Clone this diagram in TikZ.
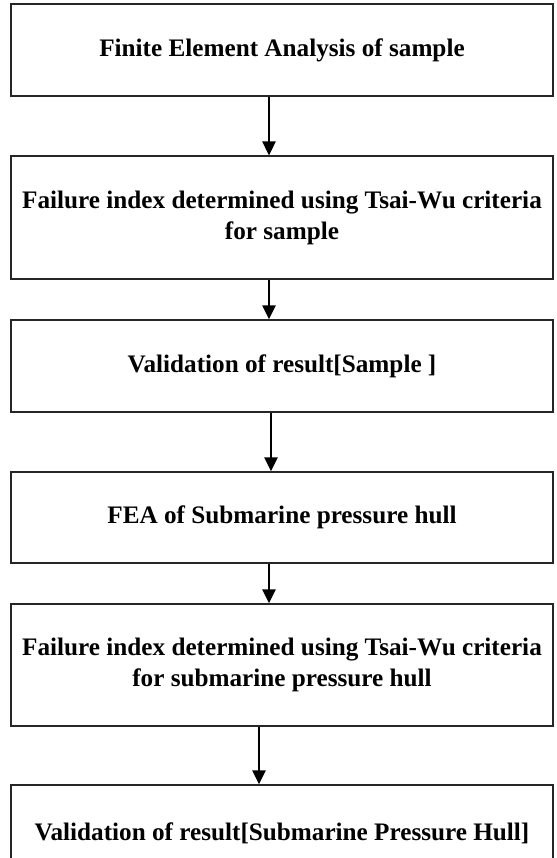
\documentclass[tikz,border=0pt]{standalone}
\usepackage{fontspec}
\setmainfont{Liberation Serif}
\usetikzlibrary{arrows.meta}
\begin{document}
\begin{tikzpicture}[x=0.75pt,y=-0.75pt,
  box/.style={draw=black!85,line width=1.1pt,minimum width=406.5pt,align=center,
    font=\fontsize{18.9}{23.2}\selectfont\bfseries,inner sep=0pt},
  conn/.style={draw=black,line width=1.1pt,-{Triangle[width=10pt,length=10.5pt]}}]
\useasboundingbox (0,0) rectangle (557,858);
\clip (0,0) rectangle (557,858);
\node[box,minimum height=69pt] (b1) at (282,50) {Finite Element Analysis of sample};
\node[box,minimum height=92pt] (b2) at (282,217.5) {Failure index determined using Tsai-Wu criteria\\for sample};
\node[box,minimum height=69pt] (b3) at (282,366) {Validation of result[Sample ]};
\node[box,minimum height=68.25pt] (b4) at (282,517.5) {FEA of Submarine pressure hull};
\node[box,minimum height=91.5pt] (b5) at (282,665) {Failure index determined using Tsai-Wu criteria\\for submarine pressure hull};
\node[box,minimum height=72pt] (b6) at (282,833) {Validation of result[Submarine Pressure Hull]};
\draw[conn] ([xshift=-9.75pt]b1.south) -- ([xshift=-9.75pt]b2.north);
\draw[conn] ([xshift=-9.75pt]b2.south) -- ([xshift=-9.75pt]b3.north);
\draw[conn] ([xshift=-8.25pt]b3.south) -- ([xshift=-8.25pt]b4.north);
\draw[conn] ([xshift=-9.75pt]b4.south) -- ([xshift=-9.75pt]b5.north);
\draw[conn] ([xshift=-17.25pt]b5.south) -- ([xshift=-17.25pt]b6.north);
\end{tikzpicture}
\end{document}
